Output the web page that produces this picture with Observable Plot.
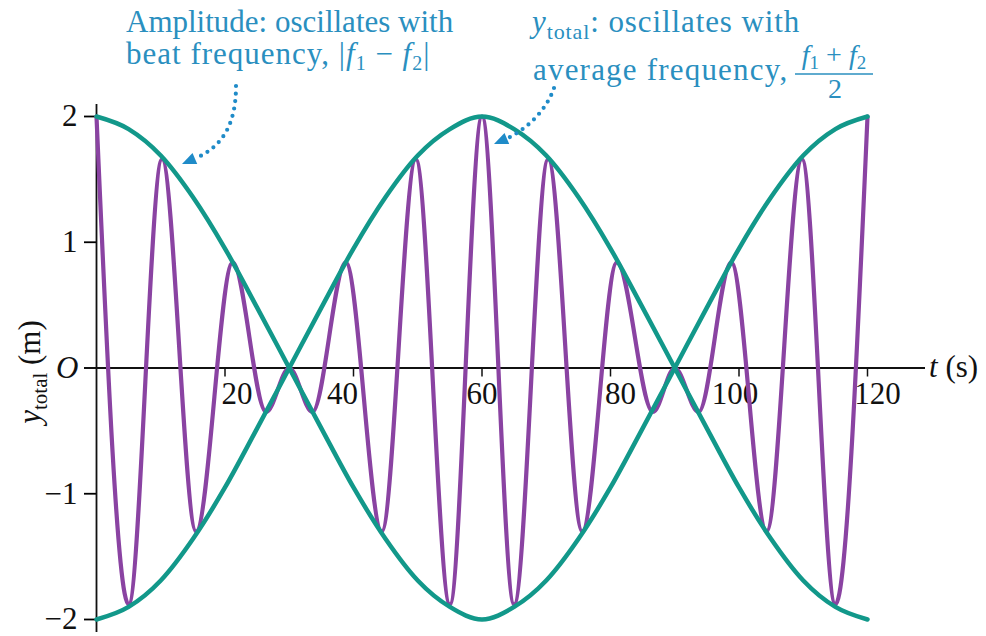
<!DOCTYPE html>
<html>
<head>
<meta charset="utf-8">
<script src="https://cdn.jsdelivr.net/npm/d3@7"></script>
<script src="https://cdn.jsdelivr.net/npm/@observablehq/plot@0.6"></script>
<style>
  html, body { margin: 0; padding: 0; background: #fff; }
</style>
</head>
<body>
<div id="chart"></div>
<script>
// Summed wave: time (s) of each turning point and y_total (m) there
const waveT = [0, 5, 10.2, 15.5, 21.2, 26.4, 30, 33.6, 38.8, 44.4, 49.7, 55, 60,
               65, 70.3, 75.6, 81, 86.6, 90, 93.7, 98.8, 104.3, 109.8, 115, 120];
const waveY = [2, -1.88, 1.66, -1.3, 0.84, -0.35, 0, -0.35, 0.84, -1.3, 1.66, -1.88, 2,
               -1.88, 1.66, -1.3, 0.84, -0.35, 0, -0.35, 0.84, -1.3, 1.66, -1.88, 2];

// Amplitude envelope (m), read every 5 s
const envT = [0, 5, 10, 15, 20, 25, 30, 35, 40, 45, 50, 55, 60,
              65, 70, 75, 80, 85, 90, 95, 100, 105, 110, 115, 120];
const envUpper = [2, 1.9, 1.69, 1.36, 0.95, 0.48, 0, -0.48, -0.95, -1.36, -1.69, -1.9, -2,
                  -1.9, -1.69, -1.36, -0.95, -0.48, 0, 0.48, 0.95, 1.36, 1.69, 1.9, 2];
const envLower = [-2, -1.9, -1.69, -1.36, -0.95, -0.48, 0, 0.48, 0.95, 1.36, 1.69, 1.9, 2,
                  1.9, 1.69, 1.36, 0.95, 0.48, 0, -0.48, -0.95, -1.36, -1.69, -1.9, -2];

// Axis ticks
const xTicks = [20, 40, 60, 80, 100, 120];
const yTicks = [-2, -1, 1, 2];

const wave = waveT.map((t, i) => ({t, y: waveY[i]}));
const envelope = [
  ...envT.map((t, i) => ({t, y: envUpper[i], side: "upper"})),
  ...envT.map((t, i) => ({t, y: envLower[i], side: "lower"}))
];

const FONT = "'Liberation Serif', 'Times New Roman', serif";
const GREEN = "#12988a";
const PURPLE = "#8a43a2";
const BLUE = "#2a8fbf";
const ARROW = "#1f8bc8";
const minus = d => (d < 0 ? "\u2212" + Math.abs(d) : String(d));

// small sideways shifts keep the t labels clear of the curves
const labelNudge = {20: 12, 40: -11, 60: 0, 80: 10, 100: -4, 120: 10};

const plot = Plot.plot({
  width: 986,
  height: 636,
  marginLeft: 96,
  marginRight: 119,
  marginTop: 116,
  marginBottom: 17,
  x: {domain: [0, 120], axis: null},
  y: {domain: [-2, 2]},
  style: {fontFamily: FONT, background: "#fff", overflow: "visible"},
  marks: [
    Plot.axisY(yTicks, {
      tickSize: 12, tickPadding: 7, fontSize: 31, tickFormat: minus,
      label: null, strokeWidth: 1.8, fill: "#111"
    }),
    // axes through the origin
    Plot.ruleY([0], {stroke: "#111", strokeWidth: 1.8, insetLeft: -12, insetRight: -58}),
    Plot.ruleX([0], {stroke: "#111", strokeWidth: 1.8, insetTop: -12, insetBottom: -13}),
    Plot.ruleX(xTicks, {x: d => d, y1: 0, y2: 0, insetBottom: -9, stroke: "#111", strokeWidth: 1.5}),
    ...xTicks.map(v => Plot.text([v], {
      x: d => d, y: 0, text: d => String(d), dy: 26, dx: labelNudge[v],
      fontSize: 31, lineAnchor: "middle", fill: "#111"
    })),
    Plot.text([0], {x: d => d, y: d => d, text: () => "O", dx: -18, textAnchor: "end",
      fontSize: 31, fontStyle: "italic", fill: "#111"}),
    // the summed wave and its envelope
    Plot.line(wave, {x: "t", y: "y", stroke: PURPLE, strokeWidth: 4.2, curve: "monotone-x"}),
    Plot.line(envelope, {x: "t", y: "y", z: "side", stroke: GREEN, strokeWidth: 4.5, curve: "monotone-x"})
  ]
});

document.getElementById("chart").appendChild(plot);

const svg = d3.select(plot);

// text made of styled runs: {text, italic, size, shift}
function richText(x, y, runs, {size = 31, fill = BLUE, anchor = "start", spacing = 0, transform = null} = {}) {
  const t = svg.append("text")
    .attr("x", x).attr("y", y)
    .attr("fill", fill)
    .attr("font-family", FONT)
    .attr("font-size", size)
    .attr("text-anchor", anchor);
  if (spacing) t.attr("letter-spacing", spacing);
  if (transform) t.attr("transform", transform);
  let shift = 0;
  for (const r of runs) {
    const s = t.append("tspan").text(r.text);
    if (r.italic) s.attr("font-style", "italic");
    if (r.size) s.attr("font-size", r.size);
    const want = r.shift || 0;
    if (want !== shift) { s.attr("dy", want - shift); shift = want; }
  }
  return t;
}

// y-axis title
richText(0, 0, [
  {text: "y", italic: true},
  {text: "total", size: 21, shift: 7},
  {text: " (m)", shift: 0}
], {fill: "#111", anchor: "middle", transform: "translate(40,372) rotate(-90)"});

// t axis title
richText(929, 377, [
  {text: "t", italic: true},
  {text: " (s)"}
], {fill: "#111"});

// first note
richText(126, 32, [{text: "Amplitude: oscillates with"}]);
richText(126, 64, [
  {text: "beat frequency, |"},
  {text: "f", italic: true},
  {text: "1", size: 20, shift: 6},
  {text: " \u2212 ", shift: 0},
  {text: "f", italic: true},
  {text: "2", size: 20, shift: 6},
  {text: "|", shift: 0}
], {spacing: 1});

// second note
richText(532, 32, [
  {text: "y", italic: true},
  {text: "total", size: 22, shift: 7},
  {text: ": oscillates with", shift: 0}
], {spacing: 0.9});
richText(533, 80, [{text: "average frequency,"}], {spacing: 1.2});
richText(834, 64, [
  {text: "f", italic: true},
  {text: "1", size: 19, shift: 5},
  {text: " + ", shift: 0},
  {text: "f", italic: true},
  {text: "2", size: 19, shift: 5}
], {size: 28, anchor: "middle"});
svg.append("line")
  .attr("x1", 795).attr("x2", 873).attr("y1", 74).attr("y2", 74)
  .attr("stroke", BLUE).attr("stroke-width", 1.6);
richText(835, 98, [{text: "2"}], {size: 28, anchor: "middle"});

// dotted pointer arrows
function pointer(d, tip, from) {
  svg.append("path")
    .attr("d", d)
    .attr("fill", "none")
    .attr("stroke", ARROW)
    .attr("stroke-width", 4.2)
    .attr("stroke-linecap", "round")
    .attr("stroke-dasharray", "0 7.5");
  const dx = tip[0] - from[0], dy = tip[1] - from[1];
  const L = Math.hypot(dx, dy), ux = dx / L, uy = dy / L;
  const len = 14, half = 6;
  const bx = tip[0] - ux * len, by = tip[1] - uy * len;
  svg.append("path")
    .attr("d", `M${tip[0]},${tip[1]}L${bx - uy * half},${by + ux * half}L${bx + uy * half},${by - ux * half}Z`)
    .attr("fill", ARROW);
}
pointer("M236,86C236,122 224,146 196,158", [182, 164], [196, 158]);
pointer("M554,88C548,106 532,126 508,138", [494, 144], [508, 138]);
</script>
</body>
</html>
